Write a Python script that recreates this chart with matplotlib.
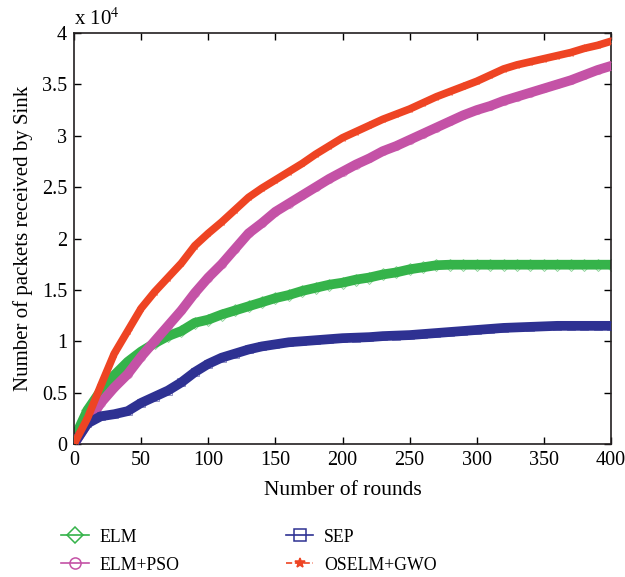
import matplotlib
matplotlib.use("Agg")
import matplotlib.pyplot as plt
import numpy as np

plt.rcParams['font.family'] = ['Liberation Serif', 'DejaVu Serif']
plt.rcParams['mathtext.fontset'] = 'stix'

rounds = list(range(0, 401, 10))

# values in units of 10^4 packets
elm = [0.05, 0.33, 0.52, 0.67, 0.80, 0.90, 0.98, 1.05, 1.10, 1.18, 1.21,
       1.26, 1.30, 1.34, 1.38, 1.42, 1.45, 1.49, 1.52, 1.55, 1.57,
       1.60, 1.62, 1.65, 1.67, 1.70, 1.72, 1.74, 1.745, 1.745, 1.745,
       1.745, 1.745, 1.745, 1.745, 1.745, 1.745, 1.745, 1.745, 1.745, 1.745]
elm_pso = [0.0, 0.20, 0.40, 0.55, 0.68, 0.85, 1.00, 1.15, 1.30, 1.47, 1.62,
           1.75, 1.90, 2.05, 2.15, 2.26, 2.34, 2.42, 2.50, 2.58, 2.65,
           2.72, 2.78, 2.85, 2.90, 2.96, 3.02, 3.08, 3.14, 3.20, 3.25,
           3.29, 3.34, 3.38, 3.42, 3.46, 3.50, 3.54, 3.59, 3.64, 3.68]
sep = [0.0, 0.20, 0.27, 0.29, 0.32, 0.40, 0.46, 0.52, 0.60, 0.70, 0.78,
       0.84, 0.88, 0.92, 0.95, 0.97, 0.99, 1.00, 1.01, 1.02, 1.03,
       1.035, 1.04, 1.05, 1.055, 1.06, 1.07, 1.08, 1.09, 1.10, 1.11,
       1.12, 1.13, 1.135, 1.14, 1.145, 1.15, 1.15, 1.15, 1.15, 1.15]
oselm_gwo = [0.0, 0.25, 0.57, 0.88, 1.10, 1.32, 1.48, 1.62, 1.76, 1.93, 2.05,
             2.16, 2.28, 2.40, 2.49, 2.57, 2.65, 2.73, 2.82, 2.90, 2.98,
             3.04, 3.10, 3.16, 3.21, 3.26, 3.32, 3.38, 3.43, 3.48, 3.53,
             3.59, 3.65, 3.69, 3.72, 3.75, 3.78, 3.81, 3.85, 3.88, 3.92]

labels = ['ELM', 'ELM+PSO', 'SEP', 'OSELM+GWO']
colors = ['#35B34A', '#C452A6', '#2E3192', '#EE4423']
xticks = [0, 50, 100, 150, 200, 250, 300, 350, 400]
yticks = [0, 0.5, 1, 1.5, 2, 2.5, 3, 3.5, 4]

fig = plt.figure(figsize=(6.25, 5.77), dpi=100)
ax = fig.add_axes([0.1184, 0.2305, 0.8592, 0.7123])

series = [elm, elm_pso, sep, oselm_gwo]
markers = ['D', 'o', 's', '*']
bands = [7, 7, 7, 5.5]
order = [2, 0, 1, 3]
for i in order:
    ax.plot(rounds, series[i], color=colors[i], lw=bands[i], solid_capstyle='round',
            zorder=2 + i)
    ax.plot(rounds, series[i], ls='none', marker=markers[i], ms=6,
            mfc='none', mec=colors[i], mew=0.6, alpha=0.6, zorder=2 + i)

# legend handles
handles = []
for i, lab in enumerate(labels):
    ls = '--' if i == 3 else '-'
    mfc = colors[i] if i == 3 else 'none'
    h, = ax.plot([], [], color=colors[i], ls=ls, lw=1.2, marker=markers[i],
                 ms=8 if i != 3 else 7, mfc=mfc, mec=colors[i], mew=1.1, label=lab)
    handles.append(h)

ax.set_xlim(0, 400)
ax.set_ylim(0, 4)
ax.set_xticks(xticks)
ax.set_yticks(yticks)
ax.set_yticklabels(['0', '0.5', '1', '1.5', '2', '2.5', '3', '3.5', '4'])
ax.tick_params(direction='in', top=True, right=True, labelsize=14.5, length=5,
               width=1.0, pad=5)
for s in ax.spines.values():
    s.set_linewidth(1.2)
    s.set_color('#231F20')

ax.set_xlabel('Number of rounds', fontsize=15.5, labelpad=8)
ax.set_ylabel('Number of packets received by Sink', fontsize=15, labelpad=6)
ax.text(0.0, 1.008, r'x 10$^{4}$', transform=ax.transAxes, fontsize=15,
        ha='left', va='bottom')

fig.legend(handles=handles, labels=labels,
           loc='lower left', bbox_to_anchor=(0.072, -0.022), ncol=2, frameon=False,
           fontsize=12.8, handlelength=1.55, columnspacing=6.0, labelspacing=0.62,
           handletextpad=0.6)
fig.savefig('out.png', dpi=100)
